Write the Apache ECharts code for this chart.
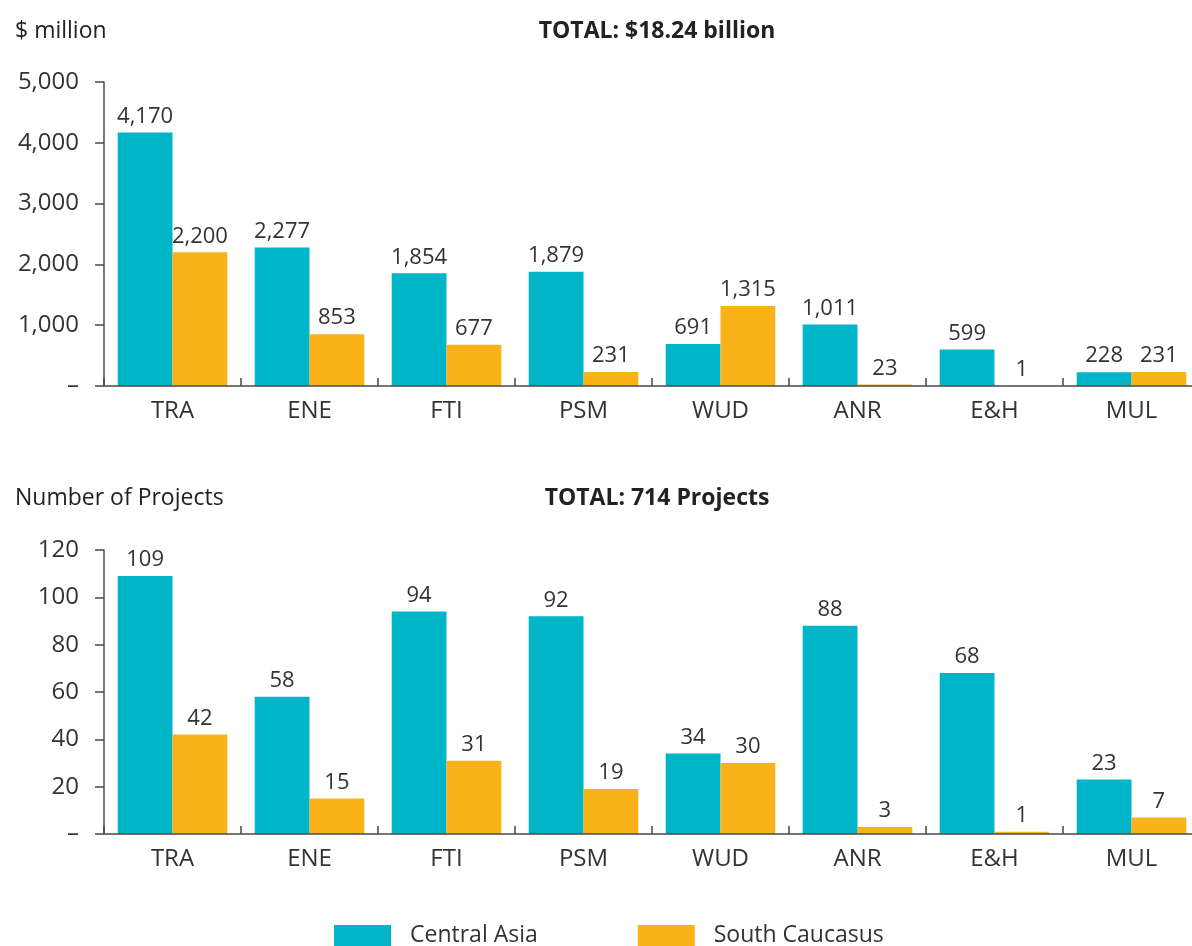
<!DOCTYPE html>
<html>
<head>
<meta charset="utf-8">
<style>
  html, body { margin: 0; padding: 0; background: #fff; }
  #chart { width: 1192px; height: 946px; }
</style>
<script src="https://cdn.jsdelivr.net/npm/echarts@6/dist/echarts.min.js"></script>
</head>
<body>
<div id="chart"></div>
<script>
const categories = ['TRA', 'ENE', 'FTI', 'PSM', 'WUD', 'ANR', 'E&H', 'MUL']
const seriesNames = ['Central Asia', 'South Caucasus']
// $ million
const amountCentralAsia = [4170, 2277, 1854, 1879, 691, 1011, 599, 228]
const amountSouthCaucasus = [2200, 853, 677, 231, 1315, 23, 1, 231]
// number of projects
const projectsCentralAsia = [109, 58, 94, 92, 34, 88, 68, 23]
const projectsSouthCaucasus = [42, 15, 31, 19, 30, 3, 1, 7]

const colors = ['#00b5c8', '#f9b218']
const font = '"Open Sans", Lato, sans-serif'
const textColor = '#333'
const lineColor = '#4a4a4a'

const chart = echarts.init(document.getElementById('chart'), null, { renderer: 'canvas' })

const fmt = (v) => (v === 0 ? '–' : v.toLocaleString('en-US'))

const xAxisBase = (gridIndex) => ({
  type: 'category',
  gridIndex,
  data: categories,
  z: 5,
  axisLine: { lineStyle: { color: lineColor, width: 1.5 } },
  axisTick: { show: true, inside: true, length: 8, lineStyle: { color: lineColor, width: 1.5 } },
  axisLabel: { color: textColor, fontSize: 24, fontFamily: font, margin: 13 }
})

const yAxisBase = (gridIndex, max, interval) => ({
  type: 'value',
  gridIndex,
  min: 0,
  max,
  interval,
  axisLine: { show: true, lineStyle: { color: lineColor, width: 1.5 } },
  axisTick: { show: true, length: 9, lineStyle: { color: lineColor, width: 1.5 } },
  splitLine: { show: false },
  axisLabel: { color: textColor, fontSize: 24, fontFamily: font, margin: 25, formatter: fmt }
})

const barSeries = (name, data, idx, color) => ({
  name,
  type: 'bar',
  xAxisIndex: idx,
  yAxisIndex: idx,
  data,
  barGap: '0%',
  barCategoryGap: '20%',
  itemStyle: { color },
  label: {
    show: true,
    position: 'top',
    distance: 5,
    color: textColor,
    fontSize: 22,
    fontFamily: font,
    formatter: (p) => fmt(p.value)
  }
})

const titleStyle = (bold) => ({ fontSize: 23, fontWeight: bold ? 'bold' : 'normal', color: '#222', fontFamily: font })

const option = {
  animation: false,
  textStyle: { fontFamily: font },
  title: [
    { text: '$ million', left: 10, top: 15, textStyle: titleStyle(false) },
    { text: 'TOTAL: $18.24 billion', left: 652, top: 15, textAlign: 'center', textStyle: titleStyle(true) },
    { text: 'Number of Projects', left: 10, top: 482, textStyle: titleStyle(false) },
    { text: 'TOTAL: 714 Projects', left: 652, top: 482, textAlign: 'center', textStyle: titleStyle(true) }
  ],
  legend: {
    data: seriesNames,
    bottom: -6,
    left: 329,
    itemWidth: 57,
    itemHeight: 21,
    itemGap: 100,
    icon: 'rect',
    textStyle: { fontSize: 23, color: textColor, fontFamily: font, padding: [0, 0, 0, 14] }
  },
  grid: [
    { left: 104, width: 1096, top: 82, bottom: 560, outerBoundsMode: 'none' },
    { left: 104, width: 1096, top: 550, bottom: 112, outerBoundsMode: 'none' }
  ],
  xAxis: [xAxisBase(0), xAxisBase(1)],
  yAxis: [yAxisBase(0, 5000, 1000), yAxisBase(1, 120, 20)],
  series: [
    barSeries(seriesNames[0], amountCentralAsia, 0, colors[0]),
    barSeries(seriesNames[1], amountSouthCaucasus, 0, colors[1]),
    barSeries(seriesNames[0], projectsCentralAsia, 1, colors[0]),
    barSeries(seriesNames[1], projectsSouthCaucasus, 1, colors[1])
  ]
}

chart.setOption(option)
</script>
</body>
</html>
